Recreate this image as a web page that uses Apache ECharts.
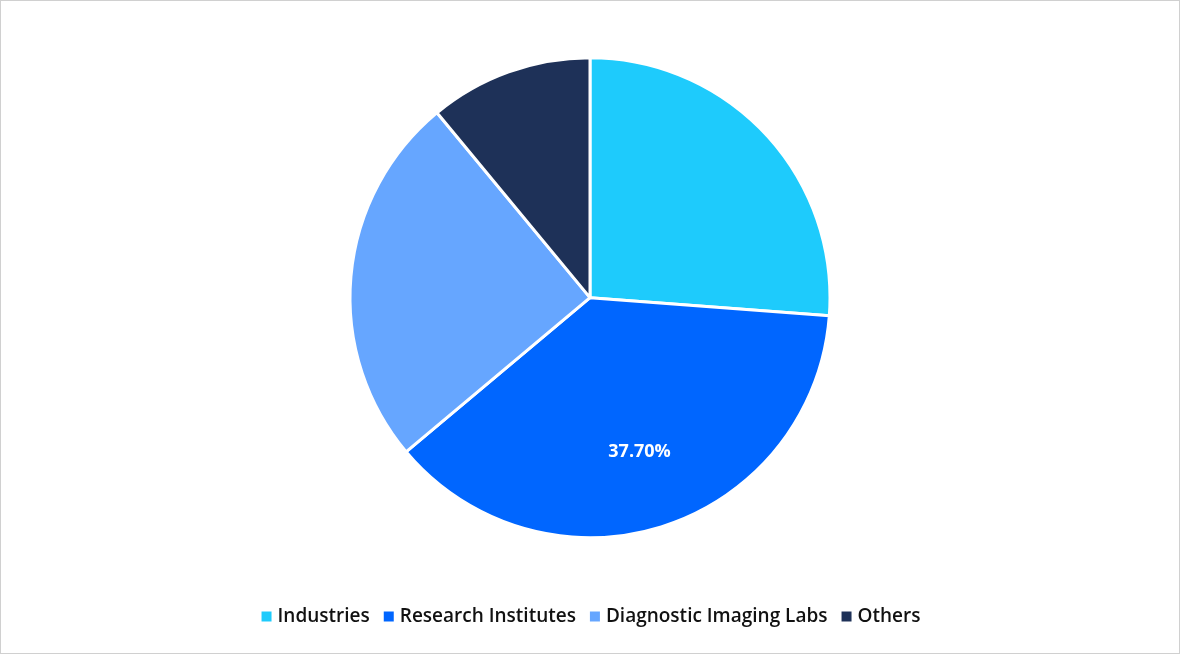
<!DOCTYPE html>
<html>
<head>
<meta charset="utf-8">
<script src="https://cdn.jsdelivr.net/npm/echarts@6/dist/echarts.min.js"></script>
<style>
  html, body { margin: 0; padding: 0; background: #fff; }
  #chart { width: 1178px; height: 652px; border: 1px solid #d0d0d0; }
</style>
</head>
<body>
<div id="chart"></div>
<script>
const categories = ['Industries', 'Research Institutes', 'Diagnostic Imaging Labs', 'Others'];
const shares = [26.2, 37.7, 25.1, 11.0];
const colors = ['#1ecbfc', '#0066ff', '#66a6ff', '#1e3158'];
const labelled = 'Research Institutes';

const chart = echarts.init(document.getElementById('chart'));
const data = categories.map((name, i) => ({ name, value: shares[i] }));

chart.setOption({
  animation: false,
  color: colors,
  legend: {
    bottom: 22,
    left: 'center',
    icon: 'rect',
    itemWidth: 12,
    itemHeight: 12,
    itemGap: 12,
    textStyle: { fontFamily: 'Open Sans', fontWeight: 600, fontSize: 19, color: '#111' },
    data: categories
  },
  series: [
    {
      type: 'pie',
      center: ['50%', '45.5%'],
      radius: 240,
      startAngle: 90,
      clockwise: true,
      itemStyle: { borderColor: '#fff', borderWidth: 3 },
      label: { show: false },
      labelLine: { show: false },
      data
    },
    {
      // ghost ring used only to place the percentage label further out
      type: 'pie',
      center: ['50%', '45.5%'],
      radius: 318,
      startAngle: 90,
      clockwise: true,
      silent: true,
      legendHoverLink: false,
      itemStyle: { color: 'rgba(0,0,0,0)' },
      label: {
        show: true,
        position: 'inside',
        fontFamily: 'Open Sans',
        fontWeight: 'bold',
        fontSize: 18,
        color: '#fff',
        formatter: p => p.name === labelled ? p.value.toFixed(2) + '%' : ''
      },
      labelLine: { show: false },
      data
    }
  ]
});
</script>
</body>
</html>
